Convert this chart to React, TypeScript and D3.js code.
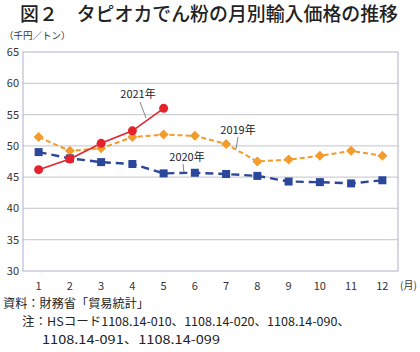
import React from "react";
import * as d3 from "d3";

const months = ["1", "2", "3", "4", "5", "6", "7", "8", "9", "10", "11", "12"];
const yTicks = [30, 35, 40, 45, 50, 55, 60, 65];
const s2019 = [51.4, 49.2, 49.6, 51.4, 51.8, 51.6, 50.3, 47.5, 47.8, 48.4, 49.2, 48.4];
const s2020 = [49.0, 48.0, 47.4, 47.1, 45.6, 45.7, 45.5, 45.2, 44.3, 44.2, 44.0, 44.5];
const s2021 = [46.2, 47.9, 50.4, 52.4, 56.0];

const FONT = "'Noto Sans CJK JP', 'Noto Sans', sans-serif";

export default function App() {
  const W = 420, H = 352;
  const left = 23, right = 398, top = 52, bottom = 271;
  const x = d3.scaleBand<string>().domain(months).range([left, right]);
  const y = d3.scaleLinear().domain([30, 65]).range([bottom, top]);
  const cx = (i: number) => (x(months[i]) as number) + x.bandwidth() / 2;
  const line = d3.line<number>().x((_, i) => cx(i)).y((d) => y(d));

  const orange = "#F39C2B";
  const blue = "#2B479B";
  const red = "#E5222B";

  return (
    <svg width={W} height={H} style={{ position: "absolute", left: 0, top: 0 }} fontFamily={FONT}>
      <rect width={W} height={H} fill="#fff" />
      <text x={20} y={21} fontSize={19} fontWeight={500} fill="#222" textLength={378} lengthAdjust="spacingAndGlyphs">
        図２　タピオカでん粉の月別輸入価格の推移
      </text>
      <text x={4} y={39} fontSize={9.5} fill="#333">（千円／トン）</text>
      {yTicks.map((t) => (
        <g key={t}>
          {t !== 30 && t !== 65 && (
            <line x1={left} x2={right} y1={y(t)} y2={y(t)} stroke="#cfcfd6" strokeWidth={1.2} />
          )}
          <text x={19} y={y(t) + 4} fontSize={11} fill="#333" textAnchor="end">{t}</text>
        </g>
      ))}
      <rect x={left} y={top} width={right - left} height={bottom - top} fill="none" stroke="#aeb0c8" strokeWidth={1} />
      {months.map((m, i) => (
        <text key={m} x={cx(i)} y={290} fontSize={11} fill="#333" textAnchor="middle">{m}</text>
      ))}
      <text x={400} y={289} fontSize={10} fill="#333">(月)</text>

      <path d={line(s2019) as string} fill="none" stroke={orange} strokeWidth={2} strokeDasharray="5,3" />
      {s2019.map((v, i) => (
        <path key={i} d={`M${cx(i)},${y(v) - 5}L${cx(i) + 5},${y(v)}L${cx(i)},${y(v) + 5}L${cx(i) - 5},${y(v)}Z`} fill={orange} />
      ))}
      <path d={line(s2020) as string} fill="none" stroke={blue} strokeWidth={2.4} strokeDasharray="8,5" />
      {s2020.map((v, i) => (
        <rect key={i} x={cx(i) - 4} y={y(v) - 4} width={8} height={8} fill={blue} />
      ))}
      <path d={line(s2021) as string} fill="none" stroke={red} strokeWidth={1.6} />
      {s2021.map((v, i) => (
        <circle key={i} cx={cx(i)} cy={y(v)} r={4.5} fill={red} />
      ))}

      <text x={138} y={98} fontSize={11} fill="#222" textAnchor="middle">2021年</text>
      <line x1={140} y1={102} x2={146} y2={118} stroke="#666" strokeWidth={0.8} />
      <text x={238} y={134} fontSize={11} fill="#222" textAnchor="middle">2019年</text>
      <line x1={238} y1={137} x2={236} y2={149} stroke="#666" strokeWidth={0.8} />
      <text x={187} y={161} fontSize={11} fill="#222" textAnchor="middle">2020年</text>
      <line x1={183} y1={164} x2={184} y2={173} stroke="#666" strokeWidth={0.8} />

      <text x={3} y={308} fontSize={12} fill="#222" textLength={146} lengthAdjust="spacingAndGlyphs">資料：財務省「貿易統計」</text>
      <text x={22} y={326} fontSize={12} fill="#222" textLength={328} lengthAdjust="spacingAndGlyphs">注：HSコード1108.14-010、1108.14-020、1108.14-090、</text>
      <text x={42} y={344} fontSize={12} fill="#222" textLength={178} lengthAdjust="spacingAndGlyphs">1108.14-091、1108.14-099</text>
    </svg>
  );
}
